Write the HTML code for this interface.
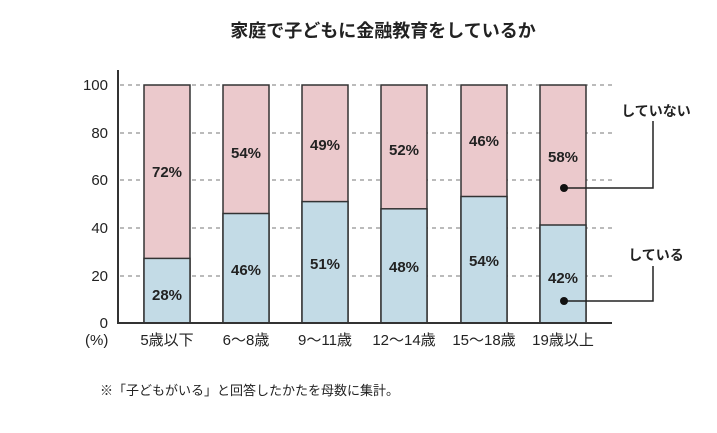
<!DOCTYPE html><html><head><meta charset="utf-8"><style>body{margin:0;background:#fff}svg{display:block}text{font-family:"Liberation Sans","Noto Sans CJK JP",sans-serif;fill:#222}</style></head><body>
<svg width="717" height="433" viewBox="0 0 717 433">
<text x="383" y="37" font-size="18" font-weight="bold" text-anchor="middle">家庭で子どもに金融教育をしているか</text>
<g stroke="#777" stroke-dasharray="4,4" stroke-width="1">
<line x1="120" y1="85" x2="612" y2="85"/><line x1="120" y1="133" x2="612" y2="133"/><line x1="120" y1="180" x2="612" y2="180"/><line x1="120" y1="228" x2="612" y2="228"/><line x1="120" y1="276" x2="612" y2="276"/></g>
<g font-size="15" text-anchor="end"><text x="108" y="90">100</text><text x="108" y="138">80</text><text x="108" y="185">60</text><text x="108" y="233">40</text><text x="108" y="281">20</text><text x="108" y="328">0</text></g>
<text x="85" y="345" font-size="15">(%)</text>
<g stroke="#333" stroke-width="1.5">
<rect x="144" y="85" width="46" height="238" fill="#ebc9cc"/><rect x="144" y="258.4" width="46" height="64.6" fill="#c3dbe6"/>
<rect x="223" y="85" width="46" height="238" fill="#ebc9cc"/><rect x="223" y="213.5" width="46" height="109.5" fill="#c3dbe6"/>
<rect x="302" y="85" width="46" height="238" fill="#ebc9cc"/><rect x="302" y="201.6" width="46" height="121.4" fill="#c3dbe6"/>
<rect x="381" y="85" width="46" height="238" fill="#ebc9cc"/><rect x="381" y="208.8" width="46" height="114.2" fill="#c3dbe6"/>
<rect x="461" y="85" width="46" height="238" fill="#ebc9cc"/><rect x="461" y="196.5" width="46" height="126.5" fill="#c3dbe6"/>
<rect x="540" y="85" width="46" height="238" fill="#ebc9cc"/><rect x="540" y="225" width="46" height="98" fill="#c3dbe6"/>
</g>
<line x1="118" y1="70" x2="118" y2="324" stroke="#333" stroke-width="2"/>
<line x1="117" y1="323" x2="612" y2="323" stroke="#333" stroke-width="2"/>
<g font-size="15" font-weight="bold" text-anchor="middle">
<text x="167" y="177">72%</text><text x="167" y="300">28%</text>
<text x="246" y="158">54%</text><text x="246" y="275">46%</text>
<text x="325" y="150">49%</text><text x="325" y="269">51%</text>
<text x="404" y="155">52%</text><text x="404" y="272">48%</text>
<text x="484" y="146">46%</text><text x="484" y="266">54%</text>
<text x="563" y="162">58%</text><text x="563" y="283">42%</text></g>
<g font-size="15" text-anchor="middle"><text x="167" y="345">5歳以下</text><text x="246" y="345">6〜8歳</text><text x="325" y="345">9〜11歳</text><text x="404" y="345">12〜14歳</text><text x="484" y="345">15〜18歳</text><text x="563" y="345">19歳以上</text></g>
<g stroke="#222" stroke-width="1.5" fill="none"><polyline points="653,121 653,188 563,188"/><polyline points="653,266 653,301 563,301"/></g>
<circle cx="564" cy="188" r="4" fill="#111"/><circle cx="564" cy="301" r="4" fill="#111"/>
<text x="656" y="116" font-size="14" font-weight="bold" text-anchor="middle">していない</text>
<text x="656" y="260" font-size="14" font-weight="bold" text-anchor="middle">している</text>
<text x="100" y="395" font-size="13">※「子どもがいる」と回答したかたを母数に集計。</text>
</svg></body></html>
